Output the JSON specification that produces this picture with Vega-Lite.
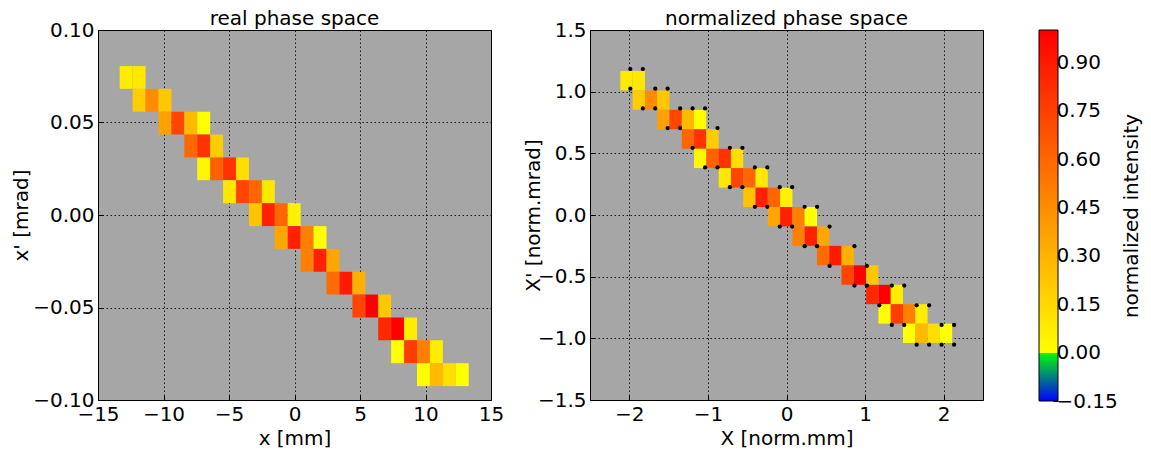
{
  "$schema": "https://vega.github.io/schema/vega-lite/v6.json",
  "background": "white",
  "padding": {"left": 11, "top": 8, "right": 5, "bottom": 0},
  "datasets": {
    "cells": [
      {"x": -13.344, "x2": -12.357, "y": 0.0805, "y2": 0.0682, "nx": -2.114, "nx2": -1.958, "ny": 1.168, "ny2": 1.010, "v": 0.08},
      {"x": -12.357, "x2": -11.370, "y": 0.0805, "y2": 0.0682, "nx": -1.958, "nx2": -1.801, "ny": 1.168, "ny2": 1.010, "v": 0.09},
      {"x": -12.357, "x2": -11.370, "y": 0.0682, "y2": 0.0558, "nx": -1.958, "nx2": -1.801, "ny": 1.010, "ny2": 0.853, "v": 0.2},
      {"x": -11.370, "x2": -10.383, "y": 0.0682, "y2": 0.0558, "nx": -1.801, "nx2": -1.645, "ny": 1.010, "ny2": 0.853, "v": 0.45},
      {"x": -10.383, "x2": -9.397, "y": 0.0682, "y2": 0.0558, "nx": -1.645, "nx2": -1.489, "ny": 1.010, "ny2": 0.853, "v": 0.22},
      {"x": -10.383, "x2": -9.397, "y": 0.0558, "y2": 0.0435, "nx": -1.645, "nx2": -1.489, "ny": 0.853, "ny2": 0.695, "v": 0.37},
      {"x": -9.397, "x2": -8.410, "y": 0.0558, "y2": 0.0435, "nx": -1.489, "nx2": -1.332, "ny": 0.853, "ny2": 0.695, "v": 0.73},
      {"x": -8.410, "x2": -7.423, "y": 0.0558, "y2": 0.0435, "nx": -1.332, "nx2": -1.176, "ny": 0.853, "ny2": 0.695, "v": 0.27},
      {"x": -7.423, "x2": -6.436, "y": 0.0558, "y2": 0.0435, "nx": -1.176, "nx2": -1.020, "ny": 0.853, "ny2": 0.695, "v": 0.0},
      {"x": -8.410, "x2": -7.423, "y": 0.0435, "y2": 0.0311, "nx": -1.332, "nx2": -1.176, "ny": 0.695, "ny2": 0.537, "v": 0.6},
      {"x": -7.423, "x2": -6.436, "y": 0.0435, "y2": 0.0311, "nx": -1.176, "nx2": -1.020, "ny": 0.695, "ny2": 0.537, "v": 0.8},
      {"x": -6.436, "x2": -5.450, "y": 0.0435, "y2": 0.0311, "nx": -1.020, "nx2": -0.863, "ny": 0.695, "ny2": 0.537, "v": 0.2},
      {"x": -7.423, "x2": -6.436, "y": 0.0311, "y2": 0.0188, "nx": -1.176, "nx2": -1.020, "ny": 0.537, "ny2": 0.380, "v": 0.03},
      {"x": -6.436, "x2": -5.450, "y": 0.0311, "y2": 0.0188, "nx": -1.020, "nx2": -0.863, "ny": 0.537, "ny2": 0.380, "v": 0.62},
      {"x": -5.450, "x2": -4.463, "y": 0.0311, "y2": 0.0188, "nx": -0.863, "nx2": -0.707, "ny": 0.537, "ny2": 0.380, "v": 0.8},
      {"x": -4.463, "x2": -3.476, "y": 0.0311, "y2": 0.0188, "nx": -0.707, "nx2": -0.550, "ny": 0.537, "ny2": 0.380, "v": 0.13},
      {"x": -5.450, "x2": -4.463, "y": 0.0188, "y2": 0.0064, "nx": -0.863, "nx2": -0.707, "ny": 0.380, "ny2": 0.222, "v": 0.09},
      {"x": -4.463, "x2": -3.476, "y": 0.0188, "y2": 0.0064, "nx": -0.707, "nx2": -0.550, "ny": 0.380, "ny2": 0.222, "v": 0.73},
      {"x": -3.476, "x2": -2.490, "y": 0.0188, "y2": 0.0064, "nx": -0.550, "nx2": -0.394, "ny": 0.380, "ny2": 0.222, "v": 0.6},
      {"x": -2.490, "x2": -1.503, "y": 0.0188, "y2": 0.0064, "nx": -0.394, "nx2": -0.238, "ny": 0.380, "ny2": 0.222, "v": 0.09},
      {"x": -3.476, "x2": -2.490, "y": 0.0064, "y2": -0.0060, "nx": -0.550, "nx2": -0.394, "ny": 0.222, "ny2": 0.065, "v": 0.23},
      {"x": -2.490, "x2": -1.503, "y": 0.0064, "y2": -0.0060, "nx": -0.394, "nx2": -0.238, "ny": 0.222, "ny2": 0.065, "v": 0.87},
      {"x": -1.503, "x2": -0.516, "y": 0.0064, "y2": -0.0060, "nx": -0.238, "nx2": -0.081, "ny": 0.222, "ny2": 0.065, "v": 0.6},
      {"x": -0.516, "x2": 0.470, "y": 0.0064, "y2": -0.0060, "nx": -0.081, "nx2": 0.075, "ny": 0.222, "ny2": 0.065, "v": 0.05},
      {"x": -1.503, "x2": -0.516, "y": -0.0060, "y2": -0.0183, "nx": -0.238, "nx2": -0.081, "ny": 0.065, "ny2": -0.093, "v": 0.35},
      {"x": -0.516, "x2": 0.470, "y": -0.0060, "y2": -0.0183, "nx": -0.081, "nx2": 0.075, "ny": 0.065, "ny2": -0.093, "v": 0.87},
      {"x": 0.470, "x2": 1.457, "y": -0.0060, "y2": -0.0183, "nx": 0.075, "nx2": 0.231, "ny": 0.065, "ny2": -0.093, "v": 0.5},
      {"x": 1.457, "x2": 2.444, "y": -0.0060, "y2": -0.0183, "nx": 0.231, "nx2": 0.388, "ny": 0.065, "ny2": -0.093, "v": 0.0},
      {"x": 0.470, "x2": 1.457, "y": -0.0183, "y2": -0.0307, "nx": 0.075, "nx2": 0.231, "ny": -0.093, "ny2": -0.250, "v": 0.5},
      {"x": 1.457, "x2": 2.444, "y": -0.0183, "y2": -0.0307, "nx": 0.231, "nx2": 0.388, "ny": -0.093, "ny2": -0.250, "v": 0.87},
      {"x": 2.444, "x2": 3.431, "y": -0.0183, "y2": -0.0307, "nx": 0.388, "nx2": 0.544, "ny": -0.093, "ny2": -0.250, "v": 0.35},
      {"x": 2.444, "x2": 3.431, "y": -0.0307, "y2": -0.0430, "nx": 0.388, "nx2": 0.544, "ny": -0.250, "ny2": -0.408, "v": 0.58},
      {"x": 3.431, "x2": 4.417, "y": -0.0307, "y2": -0.0430, "nx": 0.544, "nx2": 0.700, "ny": -0.250, "ny2": -0.408, "v": 0.9},
      {"x": 4.417, "x2": 5.404, "y": -0.0307, "y2": -0.0430, "nx": 0.700, "nx2": 0.857, "ny": -0.250, "ny2": -0.408, "v": 0.31},
      {"x": 4.417, "x2": 5.404, "y": -0.0430, "y2": -0.0554, "nx": 0.700, "nx2": 0.857, "ny": -0.408, "ny2": -0.566, "v": 0.73},
      {"x": 5.404, "x2": 6.391, "y": -0.0430, "y2": -0.0554, "nx": 0.857, "nx2": 1.013, "ny": -0.408, "ny2": -0.566, "v": 1.0},
      {"x": 6.391, "x2": 7.378, "y": -0.0430, "y2": -0.0554, "nx": 1.013, "nx2": 1.170, "ny": -0.408, "ny2": -0.566, "v": 0.22},
      {"x": 6.391, "x2": 7.378, "y": -0.0554, "y2": -0.0677, "nx": 1.013, "nx2": 1.170, "ny": -0.566, "ny2": -0.723, "v": 0.84},
      {"x": 7.378, "x2": 8.364, "y": -0.0554, "y2": -0.0677, "nx": 1.170, "nx2": 1.326, "ny": -0.566, "ny2": -0.723, "v": 1.0},
      {"x": 8.364, "x2": 9.351, "y": -0.0554, "y2": -0.0677, "nx": 1.326, "nx2": 1.482, "ny": -0.566, "ny2": -0.723, "v": 0.07},
      {"x": 7.378, "x2": 8.364, "y": -0.0677, "y2": -0.0801, "nx": 1.170, "nx2": 1.326, "ny": -0.723, "ny2": -0.881, "v": 0.0},
      {"x": 8.364, "x2": 9.351, "y": -0.0677, "y2": -0.0801, "nx": 1.326, "nx2": 1.482, "ny": -0.723, "ny2": -0.881, "v": 0.76},
      {"x": 9.351, "x2": 10.338, "y": -0.0677, "y2": -0.0801, "nx": 1.482, "nx2": 1.639, "ny": -0.723, "ny2": -0.881, "v": 0.5},
      {"x": 10.338, "x2": 11.325, "y": -0.0677, "y2": -0.0801, "nx": 1.639, "nx2": 1.795, "ny": -0.723, "ny2": -0.881, "v": 0.07},
      {"x": 9.351, "x2": 10.338, "y": -0.0801, "y2": -0.0925, "nx": 1.482, "nx2": 1.639, "ny": -0.881, "ny2": -1.038, "v": 0.0},
      {"x": 10.338, "x2": 11.325, "y": -0.0801, "y2": -0.0925, "nx": 1.639, "nx2": 1.795, "ny": -0.881, "ny2": -1.038, "v": 0.27},
      {"x": 11.325, "x2": 12.311, "y": -0.0801, "y2": -0.0925, "nx": 1.795, "nx2": 1.951, "ny": -0.881, "ny2": -1.038, "v": 0.13},
      {"x": 12.311, "x2": 13.298, "y": -0.0801, "y2": -0.0925, "nx": 1.951, "nx2": 2.108, "ny": -0.881, "ny2": -1.038, "v": 0.0}
    ],
    "dots": [
      {"nx": -1.987, "ny": 1.1838}, {"nx": -1.828, "ny": 1.1838},
      {"nx": -1.987, "ny": 1.0242}, {"nx": -1.670, "ny": 1.0242}, {"nx": -1.512, "ny": 1.0242},
      {"nx": -1.828, "ny": 0.8645}, {"nx": -1.670, "ny": 0.8645}, {"nx": -1.353, "ny": 0.8645}, {"nx": -1.195, "ny": 0.8645}, {"nx": -1.036, "ny": 0.8645},
      {"nx": -1.512, "ny": 0.7049}, {"nx": -1.353, "ny": 0.7049}, {"nx": -0.878, "ny": 0.7049},
      {"nx": -1.195, "ny": 0.5452}, {"nx": -0.720, "ny": 0.5452}, {"nx": -0.561, "ny": 0.5452},
      {"nx": -1.036, "ny": 0.3856}, {"nx": -0.878, "ny": 0.3856}, {"nx": -0.403, "ny": 0.3856}, {"nx": -0.244, "ny": 0.3856},
      {"nx": -0.720, "ny": 0.2259}, {"nx": -0.561, "ny": 0.2259}, {"nx": -0.086, "ny": 0.2259}, {"nx": 0.072, "ny": 0.2259},
      {"nx": -0.403, "ny": 0.0663}, {"nx": -0.244, "ny": 0.0663}, {"nx": 0.231, "ny": 0.0663}, {"nx": 0.389, "ny": 0.0663},
      {"nx": -0.086, "ny": -0.0934}, {"nx": 0.072, "ny": -0.0934}, {"nx": 0.548, "ny": -0.0934},
      {"nx": 0.231, "ny": -0.2531}, {"nx": 0.389, "ny": -0.2531}, {"nx": 0.864, "ny": -0.2531},
      {"nx": 0.548, "ny": -0.4127}, {"nx": 1.023, "ny": -0.4127},
      {"nx": 0.864, "ny": -0.5724}, {"nx": 1.023, "ny": -0.5724}, {"nx": 1.340, "ny": -0.5724}, {"nx": 1.498, "ny": -0.5724},
      {"nx": 1.181, "ny": -0.7320}, {"nx": 1.656, "ny": -0.7320}, {"nx": 1.815, "ny": -0.7320},
      {"nx": 1.340, "ny": -0.8917}, {"nx": 1.498, "ny": -0.8917}, {"nx": 1.973, "ny": -0.8917}, {"nx": 2.132, "ny": -0.8917},
      {"nx": 1.656, "ny": -1.0513}, {"nx": 1.815, "ny": -1.0513}, {"nx": 1.973, "ny": -1.0513}, {"nx": 2.132, "ny": -1.0513}
    ],
    "cbar": [{"lo": -0.15, "hi": 1.0}]
  },
  "config": {
    "font": "DejaVu Sans",
    "view": {"fill": "#a6a6a6", "stroke": "black", "strokeWidth": 1},
    "axis": {
      "labelFont": "DejaVu Sans", "labelFontSize": 20, "labelColor": "black",
      "titleFont": "DejaVu Sans", "titleFontSize": 20, "titleFontWeight": "normal", "titleColor": "black",
      "grid": true, "gridColor": "black", "gridDash": [1.5, 2.5], "gridOpacity": 0.85, "gridWidth": 1,
      "domain": false, "ticks": true, "tickColor": "black", "tickSize": -5, "labelPadding": 9, "zindex": 1,
      "labelFlush": false
    },
    "title": {"font": "DejaVu Sans", "fontSize": 20, "fontWeight": "normal", "color": "black", "offset": -9, "frame": "group"}
  },
  "bounds": "full",
  "spacing": 54,
  "resolve": {"scale": {"y": "independent", "color": "independent"}},
  "hconcat": [
    {
      "bounds": "flush",
      "spacing": 99,
      "resolve": {"scale": {"x": "independent", "y": "independent", "color": "shared"}},
      "hconcat": [
        {
          "width": 393, "height": 370,
          "title": "real phase space",
          "data": {"name": "cells"},
          "mark": {"type": "rect"},
          "encoding": {
            "x": {"field": "x", "type": "quantitative", "scale": {"domain": [-15, 15], "nice": false, "zero": false},
                  "axis": {"values": [-15, -10, -5, 0, 5, 10, 15], "title": "x [mm]", "labelFlush": false}},
            "x2": {"field": "x2"},
            "y": {"field": "y", "type": "quantitative", "scale": {"domain": [-0.1, 0.1], "nice": false, "zero": false},
                  "axis": {"values": [-0.1, -0.05, 0, 0.05, 0.1], "format": ".2f", "title": "x' [mrad]", "titlePadding": 1}},
            "y2": {"field": "y2"},
            "color": {"field": "v", "type": "quantitative",
                      "scale": {"domain": [-0.15, -0.0001, 0, 1], "range": ["#0000ff", "#00ff00", "#ffff00", "#ff0000"], "interpolate": "rgb"},
                      "legend": null}
          }
        },
        {
          "width": 393, "height": 370,
          "title": "normalized phase space",
          "layer": [
            {
              "data": {"name": "cells"},
              "mark": {"type": "rect"},
              "encoding": {
                "x": {"field": "nx", "type": "quantitative", "scale": {"domain": [-2.5, 2.5], "nice": false, "zero": false},
                      "axis": {"values": [-2, -1, 0, 1, 2], "format": "d", "title": "X [norm.mm]", "labelFlush": false}},
                "x2": {"field": "nx2"},
                "y": {"field": "ny", "type": "quantitative", "scale": {"domain": [-1.5, 1.5], "nice": false, "zero": false},
                      "axis": {"values": [-1.5, -1, -0.5, 0, 0.5, 1, 1.5], "format": ".1f", "title": "X' [norm.mrad]", "titlePadding": -6}},
                "y2": {"field": "ny2"},
                "color": {"field": "v", "type": "quantitative",
                          "scale": {"domain": [-0.15, -0.0001, 0, 1], "range": ["#0000ff", "#00ff00", "#ffff00", "#ff0000"], "interpolate": "rgb"},
                          "legend": null}
              }
            },
            {
              "data": {"name": "dots"},
              "mark": {"type": "point", "filled": true, "color": "black", "size": 18, "opacity": 1},
              "encoding": {
                "x": {"field": "nx", "type": "quantitative"},
                "y": {"field": "ny", "type": "quantitative"}
              }
            }
          ]
        }
      ]
    },
    {
      "width": 19, "height": 371,
      "view": {"fill": null, "stroke": null},
      "data": {"name": "cbar"},
      "mark": {"type": "rect", "stroke": "black", "strokeWidth": 1,
               "fill": {"gradient": "linear", "x1": 0, "y1": 1, "x2": 0, "y2": 0,
                        "stops": [{"offset": 0, "color": "#0000ff"}, {"offset": 0.1304, "color": "#00ff00"}, {"offset": 0.1305, "color": "#ffff00"}, {"offset": 1, "color": "#ff0000"}]}},
      "encoding": {
        "y": {"field": "lo", "type": "quantitative", "scale": {"domain": [-0.15, 1.0], "nice": false, "zero": false},
              "axis": {"orient": "right", "grid": false, "values": [-0.15, 0, 0.15, 0.3, 0.45, 0.6, 0.75, 0.9], "format": ".2f",
                       "labelPadding": 3,
                       "title": "normalized intensity", "titleAngle": 270, "titleBaseline": "top", "titlePadding": 4}},
        "y2": {"field": "hi"}
      }
    }
  ]
}
